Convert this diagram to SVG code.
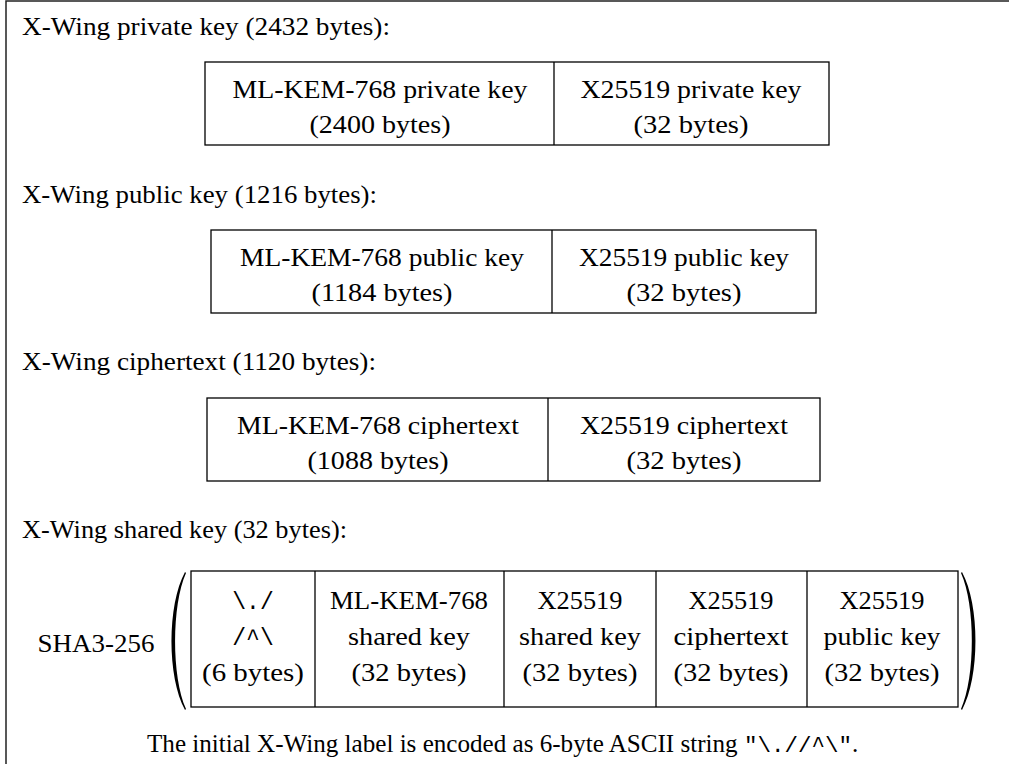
<svg xmlns="http://www.w3.org/2000/svg" width="1009" height="764" viewBox="0 0 1009 764">
<style>
text{font-family:"Liberation Serif","Times New Roman",serif;font-size:26px;fill:#000}
.c{text-anchor:middle}
.m{font-family:"Liberation Mono","DejaVu Sans Mono",monospace;font-size:23px}
.box{fill:#fff;stroke:#000;stroke-width:1.3}
.ln{stroke:#000;stroke-width:1.3}
</style>
<rect width="1009" height="764" fill="#fff"/>
<g id="frame"><path d="M6,764 V1 H1009" fill="none" stroke="#222" stroke-width="1.5"/></g>

<g id="private-key" font-family="Liberation Serif, serif">
<text x="22" y="35" textLength="368" lengthAdjust="spacingAndGlyphs">X-Wing private key (2432 bytes):</text>
<rect class="box" x="205" y="62" width="624" height="83"/>
<line class="ln" x1="554" y1="62" x2="554" y2="145"/>
<text class="c" x="380" y="98" textLength="295" lengthAdjust="spacingAndGlyphs">ML-KEM-768 private key</text>
<text class="c" x="380" y="133" textLength="141" lengthAdjust="spacingAndGlyphs">(2400 bytes)</text>
<text class="c" x="691" y="98" textLength="221" lengthAdjust="spacingAndGlyphs">X25519 private key</text>
<text class="c" x="691" y="133" textLength="115" lengthAdjust="spacingAndGlyphs">(32 bytes)</text>
</g>

<g id="public-key" font-family="Liberation Serif, serif">
<text x="22" y="203" textLength="355" lengthAdjust="spacingAndGlyphs">X-Wing public key (1216 bytes):</text>
<rect class="box" x="211" y="230" width="605" height="83"/>
<line class="ln" x1="552" y1="230" x2="552" y2="313"/>
<text class="c" x="382" y="266" textLength="284" lengthAdjust="spacingAndGlyphs">ML-KEM-768 public key</text>
<text class="c" x="382" y="301" textLength="141" lengthAdjust="spacingAndGlyphs">(1184 bytes)</text>
<text class="c" x="684" y="266" textLength="210" lengthAdjust="spacingAndGlyphs">X25519 public key</text>
<text class="c" x="684" y="301" textLength="115" lengthAdjust="spacingAndGlyphs">(32 bytes)</text>
</g>

<g id="ciphertext" font-family="Liberation Serif, serif">
<text x="22" y="370" textLength="354" lengthAdjust="spacingAndGlyphs">X-Wing ciphertext (1120 bytes):</text>
<rect class="box" x="207" y="398" width="613" height="83"/>
<line class="ln" x1="548" y1="398" x2="548" y2="481"/>
<text class="c" x="378" y="434" textLength="282" lengthAdjust="spacingAndGlyphs">ML-KEM-768 ciphertext</text>
<text class="c" x="378" y="469" textLength="141" lengthAdjust="spacingAndGlyphs">(1088 bytes)</text>
<text class="c" x="684" y="434" textLength="208" lengthAdjust="spacingAndGlyphs">X25519 ciphertext</text>
<text class="c" x="684" y="469" textLength="115" lengthAdjust="spacingAndGlyphs">(32 bytes)</text>
</g>

<g id="shared-key" font-family="Liberation Serif, serif">
<text x="22" y="538" textLength="325" lengthAdjust="spacingAndGlyphs">X-Wing shared key (32 bytes):</text>
<text class="c" x="96" y="652" textLength="117" lengthAdjust="spacingAndGlyphs">SHA3-256</text>
<path d="M185,572 C167,605 167,677 185,710 L186,709 C171.5,677 171.5,605 186,573 Z" fill="#000"/>
<path d="M962,572 C980,605 980,677 962,710 L961,709 C975.5,677 975.5,605 961,573 Z" fill="#000"/>
<rect class="box" x="191" y="571" width="767" height="136"/>
<line class="ln" x1="315" y1="571" x2="315" y2="707"/>
<line class="ln" x1="504" y1="571" x2="504" y2="707"/>
<line class="ln" x1="656" y1="571" x2="656" y2="707"/>
<line class="ln" x1="807" y1="571" x2="807" y2="707"/>
<text class="c m" x="253" y="609">\./</text>
<text class="c m" x="253" y="645">/^\</text>
<text class="c" x="253" y="681" textLength="102" lengthAdjust="spacingAndGlyphs">(6 bytes)</text>
<text class="c" x="409" y="609" textLength="158" lengthAdjust="spacingAndGlyphs">ML-KEM-768</text>
<text class="c" x="409" y="645" textLength="122" lengthAdjust="spacingAndGlyphs">shared key</text>
<text class="c" x="409" y="681" textLength="115" lengthAdjust="spacingAndGlyphs">(32 bytes)</text>
<text class="c" x="580" y="609" textLength="85" lengthAdjust="spacingAndGlyphs">X25519</text>
<text class="c" x="580" y="645" textLength="122" lengthAdjust="spacingAndGlyphs">shared key</text>
<text class="c" x="580" y="681" textLength="115" lengthAdjust="spacingAndGlyphs">(32 bytes)</text>
<text class="c" x="731" y="609" textLength="85" lengthAdjust="spacingAndGlyphs">X25519</text>
<text class="c" x="731" y="645" textLength="115" lengthAdjust="spacingAndGlyphs">ciphertext</text>
<text class="c" x="731" y="681" textLength="115" lengthAdjust="spacingAndGlyphs">(32 bytes)</text>
<text class="c" x="882" y="609" textLength="85" lengthAdjust="spacingAndGlyphs">X25519</text>
<text class="c" x="882" y="645" textLength="117" lengthAdjust="spacingAndGlyphs">public key</text>
<text class="c" x="882" y="681" textLength="115" lengthAdjust="spacingAndGlyphs">(32 bytes)</text>
</g>

<g id="note" font-family="Liberation Serif, serif">
<text x="147" y="752" style="font-size:25.1px">The initial X-Wing label is encoded as 6-byte ASCII string <tspan class="m" style="font-size:22.5px">"\.//^\"</tspan>.</text>
</g>
</svg>
